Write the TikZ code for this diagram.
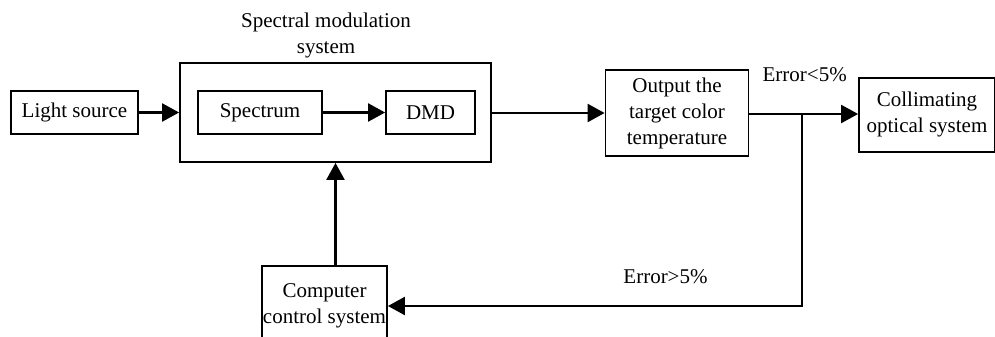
\documentclass[tikz,border=0pt]{standalone}
\usepackage{fontspec}
\setmainfont{Liberation Serif}
\usetikzlibrary{arrows.meta}
\begin{document}
\begin{tikzpicture}[x=1pt,y=-1pt,
  box/.style={draw,line width=1.8pt,inner sep=0pt,align=center,font=\fontsize{21}{26}\selectfont},
  lbl/.style={inner sep=0pt,align=center,font=\fontsize{21}{26}\selectfont},
  arr/.style={line width=2.3pt,-{Triangle[length=17pt,width=18pt]}},
  ln/.style={line width=2.3pt}]
\useasboundingbox (0,0) rectangle (995,337);
\node[box,minimum width=127pt,minimum height=43pt] (light) at (74.5,112.5) {Light source};
\node[box,minimum width=311pt,minimum height=99pt] (outer) at (335.5,112.5) {};
\node[lbl] (title) at (326,35) {Spectral modulation\\system};
\node[box,minimum width=124pt,minimum height=43pt] (spec) at (260,112.5) {Spectrum};
\node[box,minimum width=89pt,minimum height=43pt] (dmd) at (430.5,112.5) {DMD};
\node[box,minimum width=143pt,minimum height=86pt] (out) at (677,113) {Output the\\target color\\temperature};
\node[box,minimum width=136pt,minimum height=74pt] (coll) at (927,114.7) {Collimating\\optical system};
\node[box,minimum width=125pt,minimum height=80pt] (comp) at (324.5,306) {Computer\\control system};
\node[lbl] (elt) at (804.7,75) {Error<5\%};
\node[lbl] (egt) at (665.5,277) {Error>5\%};
\coordinate (jn) at (802,114);
\draw[arr] (light.east) -- (outer.west);
\draw[arr] (spec.east) -- (dmd.west);
\draw[arr] (outer.east |- out.west) -- (out.west);
\draw[arr] (out.east |- jn) -- (coll.west |- jn);
\draw[arr] (jn) |- (comp.east);
\draw[arr] (outer.south |- comp.north) -- (outer.south);
\end{tikzpicture}
\end{document}
